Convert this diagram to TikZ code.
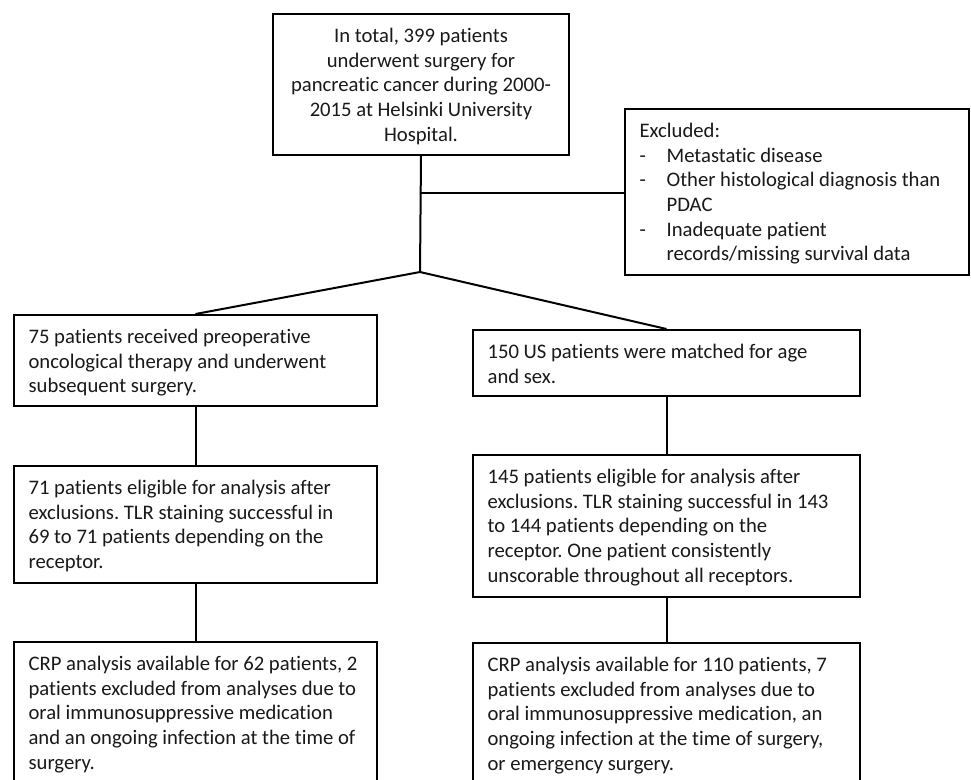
\documentclass[tikz,border=0pt]{standalone}
\usepackage{fontspec}
\setmainfont{Carlito}[Ligatures=NoCommon]
\begin{document}
\begin{tikzpicture}[x=0.75pt,y=-0.75pt,
  box/.style={draw=black, line width=1.5pt, fill=white, inner sep=0pt, anchor=north west},
  txt/.style={inner sep=0pt, font=\fontsize{15.5}{18.5}\selectfont\frenchspacing, text=black!90},
  ltxt/.style={txt, align=left, anchor=north west, xshift=11.5pt, yshift=-9pt},
  ctxt/.style={txt, align=center, anchor=north, yshift=-9pt},
  conn/.style={draw=black, line width=1.5pt}]
\clip (0,0) rectangle (971,779);
\fill[white] (0,0) rectangle (971,779);
% frames
\node[box, minimum width=222pt, minimum height=105.75pt] (top) at (272,13) {};
\node[box, minimum width=258pt, minimum height=124.5pt] (excl) at (624,108) {};
\node[box, minimum width=272.25pt, minimum height=68.25pt] (l1) at (13,314) {};
\node[box, minimum width=290.25pt, minimum height=49.5pt] (r1) at (472,329) {};
\node[box, minimum width=272.25pt, minimum height=87.75pt] (l2) at (13,465) {};
\node[box, minimum width=290.25pt, minimum height=106.5pt] (r2) at (472,454) {};
\node[box, minimum width=272.25pt, minimum height=120pt] (l3) at (13,641) {};
\node[box, minimum width=290.25pt, minimum height=120pt] (r3) at (472,642) {};
% texts
\node[ctxt] (toptext) at (top.north)
  {\strut In total, 399 patients\\ underwent surgery for\\ pancreatic cancer during 2000-\\ 2015 at Helsinki University\\ Hospital.};
\node[ltxt] (excltext) at (excl.north west)
  {\strut Excluded:\\
   \makebox[20.25pt][l]{-}Metastatic disease\\
   \makebox[20.25pt][l]{-}Other histological diagnosis than\\
   \hspace*{20.25pt}PDAC\\
   \makebox[20.25pt][l]{-}Inadequate patient\\
   \hspace*{20.25pt}records/missing survival data};
\node[ltxt] (l1text) at (l1.north west)
  {\strut 75 patients received preoperative\\ oncological therapy and underwent\\ subsequent surgery.};
\node[ltxt] (r1text) at (r1.north west)
  {\strut 150 US patients were matched for age\\ and sex.};
\node[ltxt] (l2text) at (l2.north west)
  {\strut 71 patients eligible for analysis after\\ exclusions. TLR staining successful in\\ 69 to 71 patients depending on the\\ receptor.};
\node[ltxt] (r2text) at (r2.north west)
  {\strut 145 patients eligible for analysis after\\ exclusions. TLR staining successful in 143\\ to 144 patients depending on the\\ receptor. One patient consistently\\ unscorable throughout all receptors.};
\node[ltxt] (l3text) at (l3.north west)
  {\strut CRP analysis available for 62 patients, 2\\ patients excluded from analyses due to\\ oral immunosuppressive medication\\ and an ongoing infection at the time of\\ surgery.};
\node[ltxt] (r3text) at (r3.north west)
  {\strut CRP analysis available for 110 patients, 7\\ patients excluded from analyses due to\\ oral immunosuppressive medication, an\\ ongoing infection at the time of surgery,\\ or emergency surgery.};
% connectors
\coordinate (split) at (420,272);
\coordinate (branch) at (420,193);
\draw[conn] (top.south) -- (split);
\draw[conn] (branch) -- (branch -| excl.west);
\draw[conn] (split) -- (l1.north);
\draw[conn] (split) -- (r1.north);
\draw[conn] (l1.south) -- (l2.north);
\draw[conn] (r1.south) -- (r2.north);
\draw[conn] (l2.south) -- (l3.north);
\draw[conn] (r2.south) -- (r3.north);
\end{tikzpicture}
\end{document}
